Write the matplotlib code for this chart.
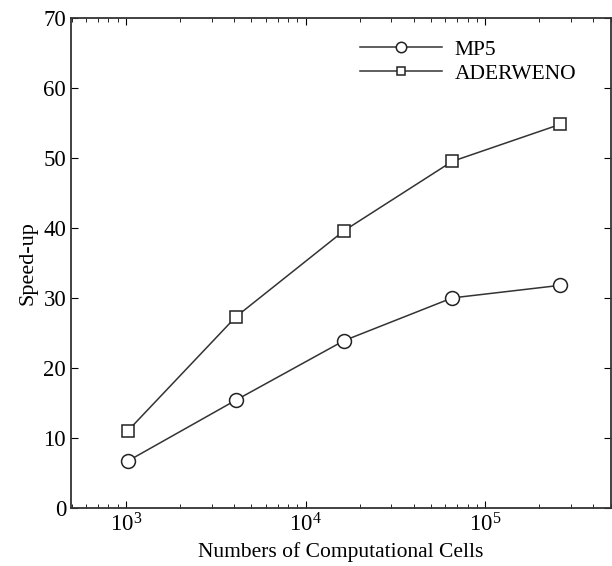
import matplotlib
matplotlib.use('Agg')
import matplotlib.pyplot as plt

cells = [1024, 4096, 16384, 65536, 262144]
mp5 = [6.7, 15.4, 23.9, 30.0, 31.8]
aderweno = [11.0, 27.3, 39.6, 49.5, 54.8]

plt.rcParams['font.family'] = ['Liberation Serif', 'DejaVu Serif']

fig = plt.figure(figsize=(6.12, 5.66), dpi=100)
ax = fig.add_axes([0.116, 0.1025, 0.882, 0.866])

ax.plot(cells, mp5, '-o', color='#333333', lw=1.1, ms=10, mfc='white', mec='#222222', mew=1.1, label='MP5')
ax.plot(cells, aderweno, '-s', color='#333333', lw=1.1, ms=8, mfc='white', mec='#222222', mew=1.1, label='ADERWENO')

ax.set_xscale('log')
ax.set_xlim(495, 5e5)
ax.set_ylim(0, 70)
ax.set_yticks(range(0, 71, 10))
ax.tick_params(which='both', direction='in', top=True, right=True, labelsize=16.5)
ax.tick_params(which='major', length=5)
ax.tick_params(which='minor', length=3)
for s in ax.spines.values():
    s.set_linewidth(1.3)
    s.set_color('#333333')

ax.set_xlabel('Numbers of Computational Cells', fontsize=15.5, labelpad=4)
ax.set_ylabel('Speed-up', fontsize=16)
ax.legend(loc='upper right', bbox_to_anchor=(0.972, 0.995), frameon=False, fontsize=15.5,
          handlelength=3.8, labelspacing=0.18, markerscale=0.75, handletextpad=0.6)

fig.savefig('out.png', dpi=100)
